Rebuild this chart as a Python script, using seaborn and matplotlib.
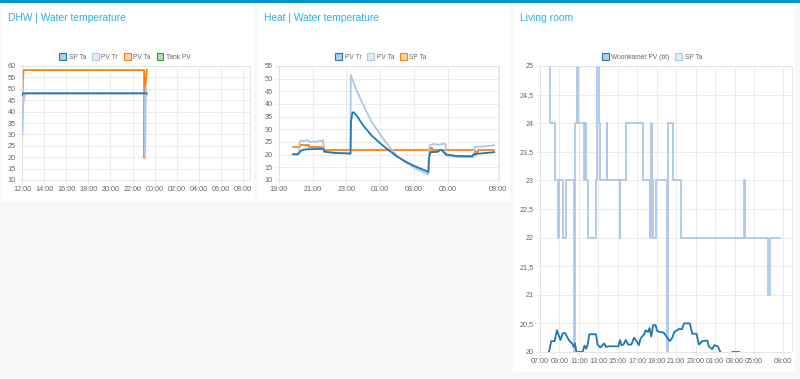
import pandas as pd
import seaborn as sns
import matplotlib.pyplot as plt
import matplotlib.dates as mdates
import matplotlib.ticker as ticker
from matplotlib.colors import to_rgba
from matplotlib.patches import Patch, Rectangle

# DHW | Water temperature  (hours after 12:00)
dhw_start = '2021-03-01 12:00'
dhw_sp_h = [0.0, 0.05, 11.28]
dhw_sp = [47.0, 48.0, 48.0]
dhw_tr_h = [0.0, 0.05, 0.1, 0.2, 0.3, 11.08, 11.1, 11.14, 11.2, 11.3]
dhw_tr = [30, 37, 43, 46, 48, 48, 20, 20, 51, 47]
dhw_ta_h = [0.0, 0.03, 0.04, 0.08, 0.1, 0.15, 11.05, 11.07, 11.1, 11.3]
dhw_ta = [27, 31, 45, 54, 55, 58.2, 58.2, 19.6, 48, 58.5]
dhw_tank_h = []
dhw_tank = []

# Heat | Water temperature  (hours after 19:00)
heat_start = '2021-03-01 19:00'
heat_tr_h = [0.82, 1.1, 1.2, 1.35, 1.6, 2.0, 2.4, 2.62, 2.7, 3.0,
             3.5, 4.0, 4.24, 4.27, 4.35, 4.42, 4.6, 5.0, 5.5, 6.0,
             6.5, 7.0, 7.5, 8.0, 8.5, 8.86, 8.9, 8.95, 9.0, 9.4,
             9.55, 9.65, 9.9, 10.5, 11.0, 11.45, 11.55, 12.0, 12.78]
heat_tr = [20.2, 20.1, 20.8, 21.8, 22.1, 22.2, 22.3, 22.2, 21.2, 20.9,
           20.6, 20.5, 20.4, 33.0, 36.5, 36.8, 35.5, 31.5, 27.5, 24.5,
           21.8, 19.3, 17.3, 15.6, 14.2, 13.2, 18.5, 20.2, 21.0, 21.1,
           21.8, 21.8, 20.1, 19.5, 19.4, 19.4, 20.2, 20.5, 21.0]
heat_ta_h = [0.82, 1.18, 1.22, 1.3, 1.5, 1.7, 1.8, 2.0, 2.2, 2.4,
             2.55, 2.62, 2.66, 3.0, 4.0, 4.24, 4.26, 4.5, 5.0, 5.5,
             6.0, 6.5, 7.0, 7.5, 8.0, 8.5, 8.86, 8.9, 8.95, 9.2,
             9.5, 9.75, 9.88, 9.92, 10.5, 11.0, 11.55, 11.6, 12.0, 12.4, 12.78]
heat_ta = [20.0, 20.2, 25.0, 25.6, 25.4, 25.8, 25.0, 25.2, 25.0, 25.5,
           25.2, 25.8, 21.2, 20.9, 20.6, 20.5, 51.5, 47.0, 39.5, 33.0,
           28.0, 23.5, 19.5, 17.0, 15.0, 13.3, 12.2, 22.5, 23.8, 24.2,
           23.9, 24.3, 24.2, 19.6, 19.1, 19.0, 19.0, 23.0, 23.2, 23.4, 23.7]
heat_sp_h = [0.82, 1.22, 1.76, 2.65, 8.92, 8.97, 9.05, 11.6, 11.68, 11.8, 12.78]
heat_sp = [23, 24, 23, 22, 20, 22.7, 22, 20, 21, 22, 22]

# Living room  (hours after 07:00)
liv_start = '2021-03-01 07:00'
liv_pv_h = [0.92, 1.16, 1.5, 1.74, 1.9, 2.1, 2.35, 2.59, 2.86, 3.1,
            3.3, 3.47, 3.6, 3.74, 4.39, 4.56, 4.76, 4.9, 5.07, 5.75,
            5.92, 6.19, 6.6, 6.77, 7.11, 8.06, 8.23, 8.37, 8.57, 8.81,
            9.05, 9.39, 9.66, 9.93, 10.17, 10.34, 10.68, 10.85, 11.09, 11.26,
            11.43, 11.63, 11.87, 12.04, 12.31, 12.72, 12.99, 13.33, 13.57, 13.81,
            14.25, 14.59, 14.8, 15.4, 15.65, 16.09, 16.33, 16.67, 17.18, 17.35,
            17.69, 17.93, 18.27, 18.54, 18.8, 19.6, 19.73, 20.51, 20.7, 24.6]
liv_pv = [20.0, 20.19, 20.19, 20.38, 20.3, 20.21, 20.33, 20.33, 20.24, 20.18,
          20.15, 20.09, 20.15, 20.0, 20.0, 20.11, 20.06, 20.13, 20.31, 20.31,
          20.13, 20.08, 20.15, 20.09, 20.1, 20.1, 20.21, 20.12, 20.13, 20.21,
          20.13, 20.13, 20.25, 20.19, 20.12, 20.24, 20.3, 20.38, 20.35, 20.42,
          20.27, 20.47, 20.47, 20.37, 20.35, 20.34, 20.27, 20.19, 20.24, 20.35,
          20.4, 20.4, 20.5, 20.5, 20.32, 20.32, 20.13, 20.19, 20.2, 20.1,
          20.05, 20.12, 20.1, 20.0, 19.8, 19.8, 20.0, 20.0, 19.8, 19.8]
liv_sp_h = [0.95, 1.05, 1.56, 1.80, 1.95, 2.35, 2.69, 3.54, 3.62, 3.84,
            3.95, 4.49, 4.66, 4.73, 4.97, 5.75, 5.90, 6.02, 6.12, 6.84,
            6.90, 8.20, 8.27, 8.81, 10.61, 11.30, 11.36, 11.46, 11.60, 11.90,
            13.06, 13.13, 13.64, 14.46, 20.98, 21.10, 23.47, 23.60, 24.66]
liv_sp = [26, 24, 23, 22, 23, 22, 23, 20, 24, 26,
          24, 23, 24, 23, 22, 23, 26, 24, 23, 24,
          23, 22, 23, 24, 23, 22, 24, 23, 22, 23,
          20, 24, 23, 22, 23, 22, 21, 22, 22]

BLUE, LIGHT, ORANGE, GREEN = '#1f77b4', '#aec7e8', '#ff7f0e', '#2ca02c'
TITLE = '#2bb0ed'
W, H = 800, 379

sns.set_theme(style='whitegrid')
plt.rcParams['font.family'] = ['Liberation Sans', 'DejaVu Sans']


def to_time(start, hours):
    return pd.Timestamp(start) + pd.to_timedelta(hours, unit='h')


def px_box(x0, y0, x1, y1):
    return [x0 / W, 1 - y1 / H, (x1 - x0) / W, (y1 - y0) / H]


def draw(ax, start, hours, values, color, step=False, z=2):
    if len(hours) == 0:
        return
    sns.lineplot(x=to_time(start, hours), y=values, ax=ax, color=color,
                 linewidth=1.3, estimator=None, sort=False, zorder=z,
                 drawstyle='steps-post' if step else 'default')


def style(ax, legend_x, names, colors):
    ax.set_facecolor('white')
    ax.grid(True, color='#e8e8e8', linewidth=0.6)
    for s in ax.spines.values():
        s.set_color('#e0e0e0')
        s.set_linewidth(0.6)
    ax.tick_params(length=3, width=0.6, color='#e8e8e8', labelsize=5.2,
                   labelcolor='#666666', pad=1.5, bottom=True, left=True)
    ax.xaxis.set_major_formatter(mdates.DateFormatter('%H:%M'))
    ax.set_xlabel('')
    ax.set_ylabel('')
    handles = [Patch(facecolor=to_rgba(c, 0.35), edgecolor=c, linewidth=0.8, label=n)
               for n, c in zip(names, colors)]
    ax.legend(handles=handles, loc='center', bbox_to_anchor=(legend_x / W, 1 - 57 / H),
              bbox_transform=fig.transFigure, ncol=len(names), frameon=False,
              fontsize=4.8, handlelength=1.0, handleheight=1.1, handletextpad=0.4,
              columnspacing=0.9, labelcolor='#666666', borderaxespad=0)


fig = plt.figure(figsize=(W / 100, H / 100), dpi=100, facecolor='#f7f7f7')

# dashboard cards and header line
for x0, y0, x1, y1 in [(1, 4, 254, 202), (257, 4, 510, 202), (513, 4, 795, 372)]:
    fig.add_artist(Rectangle((x0 / W, 1 - y1 / H), (x1 - x0) / W, (y1 - y0) / H,
                             transform=fig.transFigure, facecolor='white',
                             edgecolor='none', zorder=-5))
fig.add_artist(Rectangle((0, 1 - 2.5 / H), 1, 2.5 / H, transform=fig.transFigure,
                         facecolor='#0094ce', edgecolor='none', zorder=-4))

fig.text(8 / W, 1 - 18 / H, 'DHW | Water temperature', color=TITLE, fontsize=7.4, va='center')
fig.text(264 / W, 1 - 18 / H, 'Heat | Water temperature', color=TITLE, fontsize=7.4, va='center')
fig.text(520 / W, 1 - 18 / H, 'Living room', color=TITLE, fontsize=7.4, va='center')

# DHW
ax1 = fig.add_axes(px_box(22, 66, 250, 180))
draw(ax1, dhw_start, dhw_tank_h, dhw_tank, GREEN, z=1)
draw(ax1, dhw_start, dhw_ta_h, dhw_ta, ORANGE, z=2)
draw(ax1, dhw_start, dhw_tr_h, dhw_tr, LIGHT, z=3)
draw(ax1, dhw_start, dhw_sp_h, dhw_sp, BLUE, z=4)
ax1.set_ylim(10, 60)
ax1.set_yticks(range(10, 61, 5))
ax1.set_xlim(to_time(dhw_start, 0), to_time(dhw_start, 20.63))
ax1.xaxis.set_major_locator(mdates.HourLocator(byhour=range(0, 24, 2)))
style(ax1, 125, ['SP Ta', 'PV Tr', 'PV Ta', 'Tank PV'], [BLUE, LIGHT, ORANGE, GREEN])

# Heat
ax2 = fig.add_axes(px_box(279, 66, 499, 180))
draw(ax2, heat_start, heat_sp_h, heat_sp, ORANGE, step=True, z=2)
draw(ax2, heat_start, heat_ta_h, heat_ta, LIGHT, z=3)
draw(ax2, heat_start, heat_tr_h, heat_tr, BLUE, z=4)
ax2.set_ylim(10, 55)
ax2.set_yticks(range(10, 56, 5))
ax2.set_xlim(to_time(heat_start, 0), to_time(heat_start, 13.05))
ax2.set_xticks(to_time(heat_start, [0, 2, 4, 6, 8, 10, 13]))
style(ax2, 381, ['PV Tr', 'PV Ta', 'SP Ta'], [BLUE, LIGHT, ORANGE])

# Living room
ax3 = fig.add_axes(px_box(540, 66, 792, 352))
draw(ax3, liv_start, liv_sp_h, liv_sp, LIGHT, step=True, z=2)
draw(ax3, liv_start, liv_pv_h, liv_pv, BLUE, z=3)
ax3.set_ylim(20, 25)
ax3.yaxis.set_major_locator(ticker.MultipleLocator(0.5))
ax3.yaxis.set_major_formatter(ticker.FuncFormatter(lambda v, _: f'{v:g}'.replace('.', ',')))
ax3.set_xlim(to_time(liv_start, 0), to_time(liv_start, 25.9))
ax3.set_xticks(to_time(liv_start, list(range(0, 23, 2)) + [25]))
style(ax3, 652, ['Woonkamer PV (bt)', 'SP Ta'], [BLUE, LIGHT])

fig.savefig('out.png', dpi=100, facecolor=fig.get_facecolor())
